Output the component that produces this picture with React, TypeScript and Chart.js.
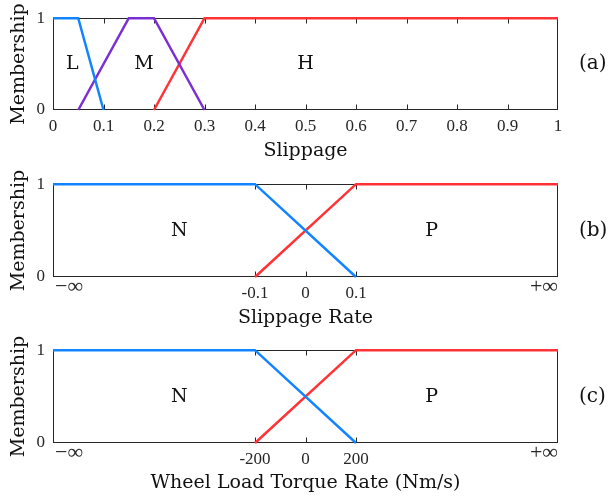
import React, { useEffect, useRef } from 'react';
import { Chart, registerables } from 'chart.js';

Chart.register(...registerables);

// ---------- Data ----------
// (a) Slippage
const slipTicks = [0, 0.1, 0.2, 0.3, 0.4, 0.5, 0.6, 0.7, 0.8, 0.9, 1];
const slipTickLabels = ['0', '0.1', '0.2', '0.3', '0.4', '0.5', '0.6', '0.7', '0.8', '0.9', '1'];
const slipL_x = [0, 0.05, 0.1];
const slipL_y = [1, 1, 0];
const slipM_x = [0.05, 0.15, 0.2, 0.3];
const slipM_y = [0, 1, 1, 0];
const slipH_x = [0.2, 0.3, 1];
const slipH_y = [0, 1, 1];
const slipNames = ['L', 'M', 'H'];
const slipNameX = [0.038, 0.18, 0.5];

// (b) Slippage Rate
const rateTicks = [-0.1, 0, 0.1];
const rateTickLabels = ['-0.1', '0', '0.1'];
const rateN_x = [-0.5, -0.1, 0.1];
const rateN_y = [1, 1, 0];
const rateP_x = [-0.1, 0.1, 0.5];
const rateP_y = [0, 1, 1];
const rateNames = ['N', 'P'];
const rateNameX = [-0.25, 0.25];

// (c) Wheel Load Torque Rate
const torqTicks = [-200, 0, 200];
const torqTickLabels = ['-200', '0', '200'];
const torqN_x = [-1000, -200, 200];
const torqN_y = [1, 1, 0];
const torqP_x = [-200, 200, 1000];
const torqP_y = [0, 1, 1];
const torqNames = ['N', 'P'];
const torqNameX = [-500, 500];

const yTicks = [0, 1];
const yTickLabels = ['0', '1'];

const BLUE = '#1284FF';
const PURPLE = '#7B2FD3';
const RED = '#FF3236';
const AXIS = '#262626';
const TITLE_FONT = 'DejaVu Serif';
const TICK_FONT = 'Liberation Serif';

const pts = (xs: number[], ys: number[]) => xs.map((x, i) => ({ x, y: ys[i] }));

const decorPlugin = {
  id: 'decor',
  beforeDatasetsDraw(chart: any, _a: any, opts: any) {
    const { ctx, chartArea: a, scales } = chart;
    ctx.save();
    ctx.strokeStyle = AXIS;
    ctx.lineWidth = 1;
    const L = Math.round(a.left) + 0.5;
    const R = Math.round(a.right) - 0.5;
    const T = Math.round(a.top) + 0.5;
    const B = Math.round(a.bottom) - 0.5;
    ctx.strokeRect(L, T, R - L, B - T);
    ctx.beginPath();
    scales.x.ticks.forEach((t: any) => {
      const px = Math.round(scales.x.getPixelForValue(t.value)) + 0.5;
      if (px < L + 2 || px > R - 2) return;
      ctx.moveTo(px, B);
      ctx.lineTo(px, B - 5);
      ctx.moveTo(px, T);
      ctx.lineTo(px, T + 5);
    });
    ctx.stroke();
    ctx.restore();
  },
  afterDraw(chart: any, _a: any, opts: any) {
    const { ctx, chartArea: a, scales } = chart;
    ctx.save();
    ctx.fillStyle = '#111';
    ctx.textBaseline = 'middle';
    ctx.textAlign = 'center';
    ctx.font = `19px "${TITLE_FONT}"`;
    (opts.names || []).forEach((n: string, i: number) => {
      ctx.fillText(n, scales.x.getPixelForValue(opts.nameX[i]), scales.y.getPixelForValue(0.5));
    });
    ctx.font = `20px "${TITLE_FONT}"`;
    ctx.textAlign = 'left';
    ctx.fillText(opts.tag, 579, (a.top + a.bottom) / 2);
    if (opts.inf) {
      ctx.font = `22px "${TICK_FONT}"`;
      ctx.fillStyle = AXIS;
      const y = a.bottom + 10;
      ctx.textAlign = 'left';
      ctx.fillText('\u2212\u221E', scales.x.getPixelForValue(scales.x.min) + 2, y);
      ctx.textAlign = 'right';
      ctx.fillText('+\u221E', scales.x.getPixelForValue(scales.x.max), y);
    }
    ctx.restore();
  },
};

function makeConfig(p: any) {
  return {
    type: 'line',
    data: {
      datasets: p.series.map((s: any) => ({
        data: s.data,
        borderColor: s.color,
        borderWidth: 2.5,
        pointRadius: 0,
        tension: 0,
        fill: false,
        clip: false,
      })),
    },
    options: {
      responsive: false,
      animation: false,
      events: [],
      layout: { padding: { top: p.padTop, left: 0, right: 50, bottom: 0 } },
      plugins: {
        legend: { display: false },
        tooltip: { enabled: false },
        decor: { names: p.names, nameX: p.nameX, tag: p.tag, inf: p.inf },
      },
      scales: {
        x: {
          type: 'linear',
          min: p.xMin,
          max: p.xMax,
          grid: { display: false, drawTicks: false },
          border: { display: false },
          afterBuildTicks: (scale: any) => {
            scale.ticks = p.xTicks.map((v: number) => ({ value: v }));
          },
          afterFit: (scale: any) => {
            scale.height = p.xAxisH;
          },
          ticks: {
            padding: 6,
            color: AXIS,
            maxRotation: 0,
            autoSkip: false,
            font: { family: TICK_FONT, size: 17 },
            callback: (v: number) => {
              const i = p.xTicks.findIndex((t: number) => Math.abs(t - v) < 1e-9);
              return i >= 0 ? p.xTickLabels[i] : '';
            },
          },
          title: {
            display: true,
            text: p.xTitle,
            color: '#111',
            font: { family: TITLE_FONT, size: 19 },
            padding: { top: 0, bottom: p.titlePadB },
          },
        },
        y: {
          type: 'linear',
          min: 0,
          max: 1,
          grid: { display: false, drawTicks: false },
          border: { display: false },
          afterBuildTicks: (scale: any) => {
            scale.ticks = yTicks.map((v) => ({ value: v }));
          },
          afterFit: (scale: any) => {
            scale.width = 53;
          },
          ticks: {
            padding: 8,
            color: AXIS,
            font: { family: TICK_FONT, size: 17 },
            callback: (v: number) => {
              const i = yTicks.indexOf(v);
              return i >= 0 ? yTickLabels[i] : '';
            },
          },
          title: {
            display: true,
            text: 'Membership',
            color: '#111',
            font: { family: TITLE_FONT, size: 19 },
            padding: { top: 8, bottom: 0 },
          },
        },
      },
    },
    plugins: [decorPlugin],
  };
}

const panels = [
  {
    top: 0,
    height: 166,
    padTop: 14,
    xAxisH: 56,
    titlePadB: 4,
    xMin: 0,
    xMax: 1,
    xTicks: slipTicks,
    xTickLabels: slipTickLabels,
    xTitle: 'Slippage',
    tag: '(a)',
    inf: false,
    names: slipNames,
    nameX: slipNameX,
    series: [
      { data: pts(slipL_x, slipL_y), color: BLUE },
      { data: pts(slipM_x, slipM_y), color: PURPLE },
      { data: pts(slipH_x, slipH_y), color: RED },
    ],
  },
  {
    top: 166,
    height: 166,
    padTop: 16,
    xAxisH: 55,
    titlePadB: 3,
    xMin: -0.5,
    xMax: 0.5,
    xTicks: rateTicks,
    xTickLabels: rateTickLabels,
    xTitle: 'Slippage Rate',
    tag: '(b)',
    inf: true,
    names: rateNames,
    nameX: rateNameX,
    series: [
      { data: pts(rateN_x, rateN_y), color: BLUE },
      { data: pts(rateP_x, rateP_y), color: RED },
    ],
  },
  {
    top: 332,
    height: 167,
    padTop: 16,
    xAxisH: 56,
    titlePadB: 5,
    xMin: -1000,
    xMax: 1000,
    xTicks: torqTicks,
    xTickLabels: torqTickLabels,
    xTitle: 'Wheel Load Torque Rate (Nm/s)',
    tag: '(c)',
    inf: true,
    names: torqNames,
    nameX: torqNameX,
    series: [
      { data: pts(torqN_x, torqN_y), color: BLUE },
      { data: pts(torqP_x, torqP_y), color: RED },
    ],
  },
];

function Panel({ p }: { p: any }) {
  const ref = useRef<HTMLCanvasElement>(null);
  useEffect(() => {
    if (!ref.current) return;
    const chart = new Chart(ref.current, makeConfig(p) as any);
    return () => chart.destroy();
  }, []);
  return (
    <canvas
      ref={ref}
      width={608}
      height={p.height}
      style={{ position: 'absolute', left: 0, top: p.top, width: 608, height: p.height, display: 'block' }}
    />
  );
}

export default function App() {
  return (
    <div style={{ position: 'fixed', left: 0, top: 0, width: 608, height: 499, background: '#fff', overflow: 'hidden' }}>
      {panels.map((p, i) => (
        <Panel key={i} p={p} />
      ))}
    </div>
  );
}
